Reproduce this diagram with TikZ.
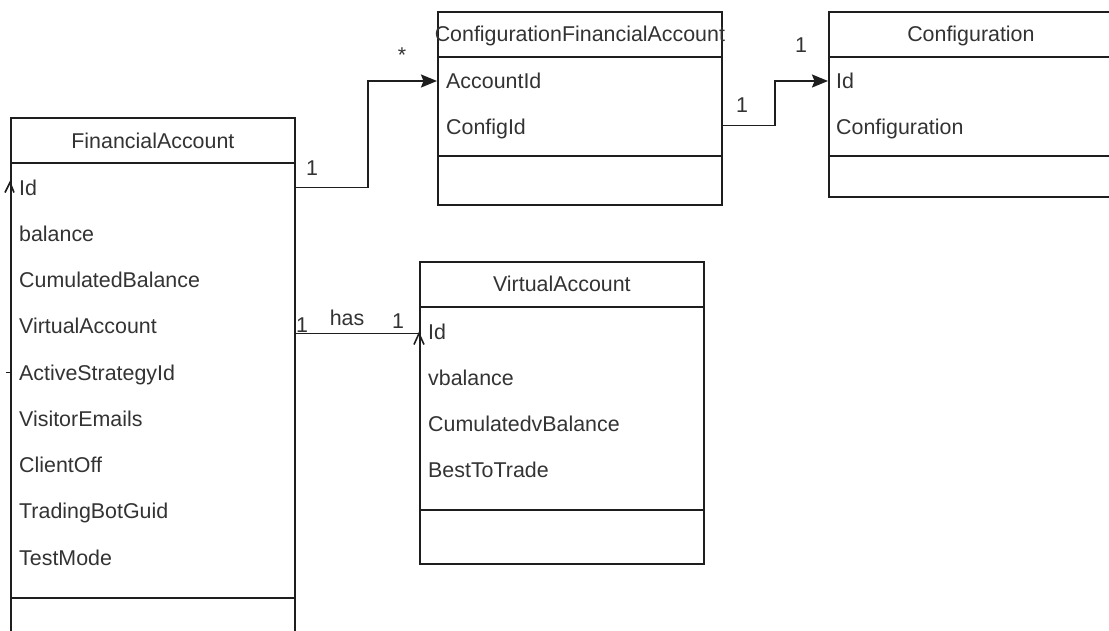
\documentclass[tikz,border=0pt]{standalone}
\usepackage{fontspec}
\setmainfont{Liberation Sans}
\usetikzlibrary{arrows.meta}

\definecolor{ink}{HTML}{1E1E1E}
\definecolor{txt}{HTML}{333333}

\tikzset{
  classbox/.style={draw=ink, line width=1.8pt, fill=white, rectangle,
    inner sep=0pt, anchor=north west, minimum width=284pt},
  sepline/.style={draw=ink, line width=1.8pt},
  label/.style={text=txt, font=\fontsize{21.4}{24}\selectfont, inner sep=0pt,
    text height=15.3pt, text depth=0pt},
  title/.style={label, anchor=center},
  item/.style={label, anchor=west},
  mult/.style={text=txt, font=\fontsize{21.4}{24}\selectfont, inner sep=0pt, anchor=base},
  conn/.style={draw=ink, line width=1.8pt},
  assoc/.style={conn, -{Stealth[length=16pt, width=13pt, inset=2.5pt]}},
}

\begin{document}
\begin{tikzpicture}[x=1pt, y=-1pt]
  \clip (0,0) rectangle (1109,630);
  \fill[white] (0,0) rectangle (1109,630);

  % ---- class boxes ----
  \node[classbox, minimum height=540pt] (fa)  at (10,117)  {};
  \node[classbox, minimum height=193pt] (cfa) at (437,11)  {};
  \node[classbox, minimum height=185pt] (cfg) at (828,11)  {};
  \node[classbox, minimum height=302pt] (va)  at (419,261) {};

  % header separators
  \foreach \b in {fa,cfa,cfg,va}
    \draw[sepline] ([yshift=-46pt]\b.north west) -- ([yshift=-46pt]\b.north east);

  % attribute / operation separators
  \draw[sepline] ([yshift=-481pt]fa.north west)  -- ([yshift=-481pt]fa.north east);
  \draw[sepline] ([yshift=-145pt]cfa.north west) -- ([yshift=-145pt]cfa.north east);
  \draw[sepline] ([yshift=-145pt]cfg.north west) -- ([yshift=-145pt]cfg.north east);
  \draw[sepline] ([yshift=-249pt]va.north west)  -- ([yshift=-249pt]va.north east);

  % ---- titles ----
  \node[title] (fa-t)  at ([yshift=-24pt]fa.north)  {FinancialAccount};
  \node[title] (cfa-t) at ([yshift=-23pt]cfa.north) {ConfigurationFinancialAccount};
  \node[title] (cfg-t) at ([yshift=-23pt]cfg.north) {Configuration};
  \node[title] (va-t)  at ([yshift=-23pt]va.north)  {VirtualAccount};

  % ---- attributes ----
  \foreach \t [count=\i] in {Id,balance,CumulatedBalance,VirtualAccount,ActiveStrategyId,VisitorEmails,ClientOff,TradingBotGuid,TestMode}
    \node[item] (fa-\i) at ([xshift=9pt, yshift={-(70.5+46.25*(\i-1))*1pt}]fa.north west) {\t};
  \foreach \t [count=\i] in {AccountId,ConfigId}
    \node[item] (cfa-\i) at ([xshift=9pt, yshift={-(70+46*(\i-1))*1pt}]cfa.north west) {\t};
  \foreach \t [count=\i] in {Id,Configuration}
    \node[item] (cfg-\i) at ([xshift=8pt, yshift={-(70+46*(\i-1))*1pt}]cfg.north west) {\t};
  \foreach \t [count=\i] in {Id,vbalance,CumulatedvBalance,BestToTrade}
    \node[item] (va-\i) at ([xshift=9pt, yshift={-(71+46*(\i-1))*1pt}]va.north west) {\t};

  % ---- connectors ----
  \draw[assoc] (fa-1 -| fa.east) -- ++(72,0) |- (cfa-1 -| cfa.west);
  \draw[assoc] ([yshift=1.5pt]cfa-2 -| cfa.east) -- ++(52,0) |- (cfg-1 -| cfg.west);
  \draw[conn] ([yshift=-1.5pt]va-1 -| fa.east) -- ([yshift=-1.5pt]va-1 -| va.west);

  % open arrow marks on the box edges
  \coordinate (vaTip) at ([yshift=-1.5pt]va-1 -| va.west);
  \draw[conn, line width=1.6pt] ([shift={(-5pt,-11pt)}]vaTip) -- (vaTip) -- ([shift={(5pt,-11pt)}]vaTip);
  \coordinate (faTip) at ([yshift=5pt]fa-1 -| fa.west);
  \draw[conn, line width=1.6pt] ([shift={(-5pt,-10pt)}]faTip) -- (faTip) -- ([shift={(4pt,-10pt)}]faTip);
  \draw[conn, line width=1.5pt] (fa-5 -| fa.west) -- ++(-4.5,0);

  % ---- multiplicities ----
  \node[mult] (m1) at (312,175.7) {1};
  \node[mult] (m2) at (402,62)    {*};
  \node[mult] (m3) at (742,112.7) {1};
  \node[mult] (m4) at (801,52.7)  {1};
  \node[mult] (m5) at (302,332)   {1};
  \node[mult] (m6) at (347,325)   {has};
  \node[mult] (m7) at (398,328)   {1};
\end{tikzpicture}
\end{document}
